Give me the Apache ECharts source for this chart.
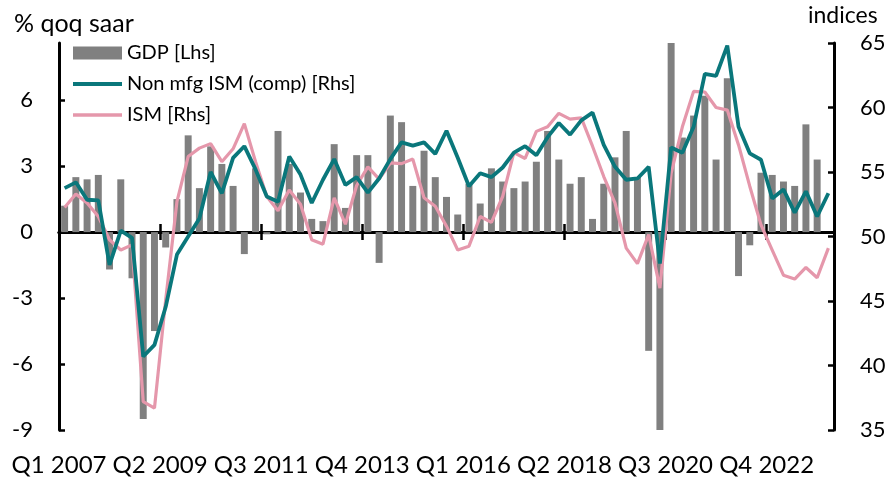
<!DOCTYPE html>
<html>
<head>
<meta charset="utf-8">
<script src="https://cdn.jsdelivr.net/npm/echarts@6/dist/echarts.min.js"></script>
<style>
html,body{margin:0;padding:0;background:#fff;}
#chart{width:885px;height:478px;}
</style>
</head>
<body>
<div id="chart"></div>
<script>
const categories = [
  'Q1 2007','Q2 2007','Q3 2007','Q4 2007',
  'Q1 2008','Q2 2008','Q3 2008','Q4 2008',
  'Q1 2009','Q2 2009','Q3 2009','Q4 2009',
  'Q1 2010','Q2 2010','Q3 2010','Q4 2010',
  'Q1 2011','Q2 2011','Q3 2011','Q4 2011',
  'Q1 2012','Q2 2012','Q3 2012','Q4 2012',
  'Q1 2013','Q2 2013','Q3 2013','Q4 2013',
  'Q1 2014','Q2 2014','Q3 2014','Q4 2014',
  'Q1 2015','Q2 2015','Q3 2015','Q4 2015',
  'Q1 2016','Q2 2016','Q3 2016','Q4 2016',
  'Q1 2017','Q2 2017','Q3 2017','Q4 2017',
  'Q1 2018','Q2 2018','Q3 2018','Q4 2018',
  'Q1 2019','Q2 2019','Q3 2019','Q4 2019',
  'Q1 2020','Q2 2020','Q3 2020','Q4 2020',
  'Q1 2021','Q2 2021','Q3 2021','Q4 2021',
  'Q1 2022','Q2 2022','Q3 2022','Q4 2022',
  'Q1 2023','Q2 2023','Q3 2023','Q4 2023',
  'Q1 2024'
];

// GDP, % qoq saar (left axis)
const gdp = [
  1.2, 2.5, 2.4, 2.6,
  -1.7, 2.4, -2.1, -8.5,
  -4.5, -0.7, 1.5, 4.4,
  2.0, 3.9, 3.1, 2.1,
  -1.0, 2.9, -0.1, 4.6,
  3.1, 1.8, 0.6, 0.5,
  4.0, 1.1, 3.5, 3.5,
  -1.4, 5.3, 5.0, 2.1,
  3.7, 2.5, 1.6, 0.8,
  2.2, 1.3, 2.9, 2.3,
  2.0, 2.3, 3.2, 4.6,
  3.3, 2.2, 2.5, 0.6,
  2.2, 3.4, 4.6, 2.5,
  -5.4, -28.0, 35.2, 4.3,
  5.3, 6.2, 3.3, 7.0,
  -2.0, -0.6, 2.7, 2.6,
  2.3, 2.1, 4.9, 3.3
];

// Non-manufacturing ISM composite (right axis)
const nonMfgISM = [
  53.75, 54.2, 52.85, 52.8,
  47.8, 50.45, 49.9, 40.7,
  41.6, 44.55, 48.6, 50.0,
  51.4, 55.0, 53.35, 56.1,
  57.0, 55.2, 53.1, 52.7,
  56.2, 54.8, 52.6, 54.4,
  56.0, 54.0, 54.6, 53.4,
  54.5, 56.0, 57.3, 57.05,
  57.3, 56.4, 58.2, 56.1,
  53.9, 54.9, 54.6, 55.35,
  56.5, 57.0, 56.3, 57.7,
  58.8, 57.9, 59.0, 59.6,
  57.1, 55.4, 54.4, 54.5,
  55.4, 47.9, 56.9, 56.5,
  58.5, 62.6, 62.45, 64.8,
  58.5, 56.45, 55.95, 52.95,
  53.65, 51.85, 53.5, 51.55,
  53.35
];

// Manufacturing ISM (right axis)
const ism = [
  52.25, 53.3, 52.6, 51.55,
  49.75, 48.95, 49.35, 37.2,
  36.7, 45.1, 52.7, 56.2,
  56.85, 57.2, 55.8, 56.8,
  58.75, 55.8, 53.1, 52.0,
  53.6, 52.5, 49.75, 49.4,
  53.0, 50.95, 53.95, 55.4,
  54.45, 55.7, 55.65, 56.0,
  53.0, 52.35, 50.8, 48.95,
  49.25, 51.55, 51.1, 53.1,
  56.5, 56.05, 58.15, 58.5,
  59.55, 59.1, 59.2, 57.0,
  54.65, 52.6, 49.1, 47.9,
  50.15, 46.0, 54.9, 58.5,
  61.25, 61.2, 60.0, 59.8,
  57.1, 53.9, 50.9, 48.95,
  47.0, 46.7, 47.6, 46.8,
  49.1
];

const leftTicks = [-9, -6, -3, 0, 3, 6];
const seriesNames = ['GDP [Lhs]', 'Non mfg ISM (comp) [Rhs]', 'ISM [Rhs]'];
const axisTitles = ['% qoq saar', 'indices'];

const FONT = "Lato, 'Liberation Sans', sans-serif";
const GRID = {left: 59, right: 51, top: 43, bottom: 48, containLabel: false, outerBoundsMode: 'none'};
const bandW = (885 - GRID.left - GRID.right) / categories.length;

const chart = echarts.init(document.getElementById('chart'), null, {renderer: 'canvas'});

const baseCat = {
  type: 'category',
  data: categories,
  boundaryGap: true,
  gridIndex: 0
};

chart.setOption({
  animation: false,
  backgroundColor: '#fff',
  textStyle: {fontFamily: FONT},
  title: [
    {text: axisTitles[0], left: 14, top: 11, padding: 0,
     textStyle: {fontSize: 25, fontWeight: 'normal', color: '#000', fontFamily: FONT}},
    {text: axisTitles[1], left: 808, top: 4, padding: 0,
     textStyle: {fontSize: 23, fontWeight: 'normal', color: '#000', fontFamily: FONT}}
  ],
  legend: {
    orient: 'vertical',
    left: 73,
    top: 43,
    padding: 0,
    itemWidth: 49,
    itemHeight: 13,
    itemGap: 11,
    textStyle: {fontSize: 20, color: '#000', fontFamily: FONT},
    data: [
      {name: seriesNames[0], icon: 'rect'},
      {name: seriesNames[1], icon: 'path://M0,0H49V4H0Z'},
      {name: seriesNames[2], icon: 'path://M0,0H49V3.4H0Z'}
    ]
  },
  grid: GRID,
  xAxis: [
    Object.assign({}, baseCat, {
      position: 'bottom',
      axisLine: {show: true, onZero: true, onZeroAxisIndex: 0, lineStyle: {color: '#000', width: 3}},
      axisTick: {show: true, interval: 8, inside: false, length: 8, lineStyle: {color: '#000', width: 2.5}},
      axisLabel: {show: false},
      splitLine: {show: false}
    }),
    Object.assign({}, baseCat, {
      position: 'top',
      axisLine: {show: true, onZero: true, onZeroAxisIndex: 0, lineStyle: {color: '#000', width: 3}},
      axisTick: {show: true, interval: 8, inside: false, length: 8, lineStyle: {color: '#000', width: 2.5}},
      axisLabel: {show: false},
      splitLine: {show: false}
    }),
    Object.assign({}, baseCat, {
      position: 'bottom',
      axisLine: {show: false, onZero: false},
      axisTick: {show: false},
      axisLabel: {
        show: true, interval: 8, margin: 23, fontSize: 24, color: '#000', fontFamily: FONT,
        padding: [0, bandW, 0, 0]
      },
      splitLine: {show: false}
    })
  ],
  yAxis: [
    {
      type: 'value', position: 'left', min: -9, max: 8.6, interval: 3,
      axisLine: {show: true, onZero: false, lineStyle: {color: '#000', width: 3}},
      axisTick: {show: true, inside: true, length: 6, customValues: leftTicks, lineStyle: {color: '#000', width: 2.5}},
      axisLabel: {show: true, margin: 26, fontSize: 22, color: '#000', fontFamily: FONT, customValues: leftTicks},
      splitLine: {show: false}
    },
    {
      type: 'value', position: 'right', min: 35, max: 65, interval: 5,
      axisLine: {show: true, onZero: false, lineStyle: {color: '#000', width: 3}},
      axisTick: {show: true, inside: true, length: 6, lineStyle: {color: '#000', width: 2.5}},
      axisLabel: {show: true, margin: 26, fontSize: 22, color: '#000', fontFamily: FONT},
      splitLine: {show: false}
    }
  ],
  series: [
    {
      name: seriesNames[0], type: 'bar', xAxisIndex: 0, yAxisIndex: 0,
      data: gdp, barWidth: '62%', clip: true,
      itemStyle: {color: '#808080'}, z: 2
    },
    {
      name: seriesNames[2], type: 'line', xAxisIndex: 0, yAxisIndex: 1,
      data: ism, symbol: 'none', showSymbol: false, clip: true,
      itemStyle: {color: '#e597ab'},
      lineStyle: {color: '#e597ab', width: 3.2}, z: 3
    },
    {
      name: seriesNames[1], type: 'line', xAxisIndex: 0, yAxisIndex: 1,
      data: nonMfgISM, symbol: 'none', showSymbol: false, clip: true,
      itemStyle: {color: '#0a777b'},
      lineStyle: {color: '#0a777b', width: 3.8}, z: 4
    }
  ]
});
</script>
</body>
</html>
